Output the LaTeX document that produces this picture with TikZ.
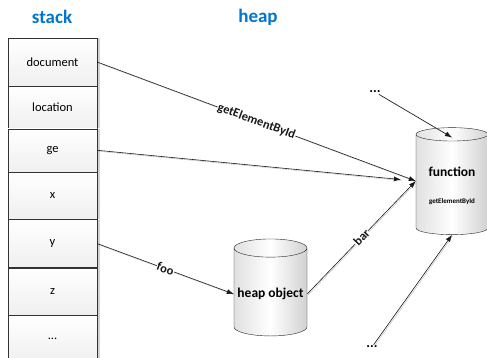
\documentclass[tikz,border=0pt]{standalone}
\usepackage{fontspec}
\setmainfont{Carlito}
\usetikzlibrary{positioning, shapes.geometric, arrows.meta, shadows, calc}
\definecolor{titleblue}{RGB}{0,118,206}
\def\gebi{getElementById}

\begin{document}
\begin{tikzpicture}[x=1pt, y=-1pt,
    cell/.style={draw=black!80, minimum width=89pt, inner sep=0pt,
        top color=white, bottom color=black!6,
        drop shadow={shadow xshift=2.5pt, shadow yshift=0pt, opacity=0.35},
        font=\fontsize{12.5}{14}\selectfont},
    title/.style={font=\fontsize{19}{22}\selectfont\bfseries, text=titleblue},
    store/.style={cylinder, shape border rotate=90, aspect=0.25, draw=black!85,
        left color=black!12, right color=black!18, middle color=white,
        font=\fontsize{13.5}{15}\selectfont\bfseries, align=center},
    ref/.style={-{Latex[length=7pt,width=5pt]}, black!90, semithick,
        preaction={draw=black!25, -, transform canvas={xshift=1pt, yshift=-1pt}}},
    lbl/.style={sloped, fill=white, inner sep=0.5pt, font=\fontsize{12.5}{14}\selectfont\bfseries},
    dots/.style={font=\fontsize{14}{14}\selectfont\bfseries, inner sep=1pt}]
\useasboundingbox (0,0) rectangle (487,358);

\node[title] (stacktitle) at (52,17) {stack};
\node[title] (heaptitle) at (258,17) {heap};

% stack frame
\node[cell, minimum height=48pt] (document) at (52.5,62) {document};
\node[cell, minimum height=42pt, below=0pt of document] (location) {location};
\node[cell, minimum height=43pt, below=0pt of location] (ge) {ge};
\node[cell, minimum height=47pt, below=0pt of ge] (varx) {x};
\node[cell, minimum height=48pt, below=0pt of varx] (vary) {y};
\node[cell, minimum height=47pt, below=0pt of vary] (varz) {z};
\node[cell, minimum height=47pt, below=0pt of varz] (more) {...};

% heap
\node[store, minimum width=73pt, minimum height=97pt] (obj) at (270.5,294) {heap object};
\node[store, minimum width=72pt, minimum height=107pt] (func) at (452,186)
    {function\\[12pt]{\fontsize{7}{8}\selectfont \gebi}};
\node[dots] (topdots) at (375,92) {...};
\node[dots] (botdots) at (372,347) {...};
\coordinate (funcin) at ($(func.west)+(0,-5)$);

\draw[ref] (document.east) -- node[lbl] {\gebi} (funcin);
\draw[ref, shorten >=15pt] (ge.east) -- (funcin);
\draw[ref] (vary.east) -- node[lbl] {foo} (obj.west);
\draw[ref] (obj.east) -- node[lbl] {bar} (funcin);
\draw[ref] (topdots) -- ($(func.north)+(0,10)$);
\draw[ref] (botdots) -- (func.south);
\end{tikzpicture}
\end{document}
